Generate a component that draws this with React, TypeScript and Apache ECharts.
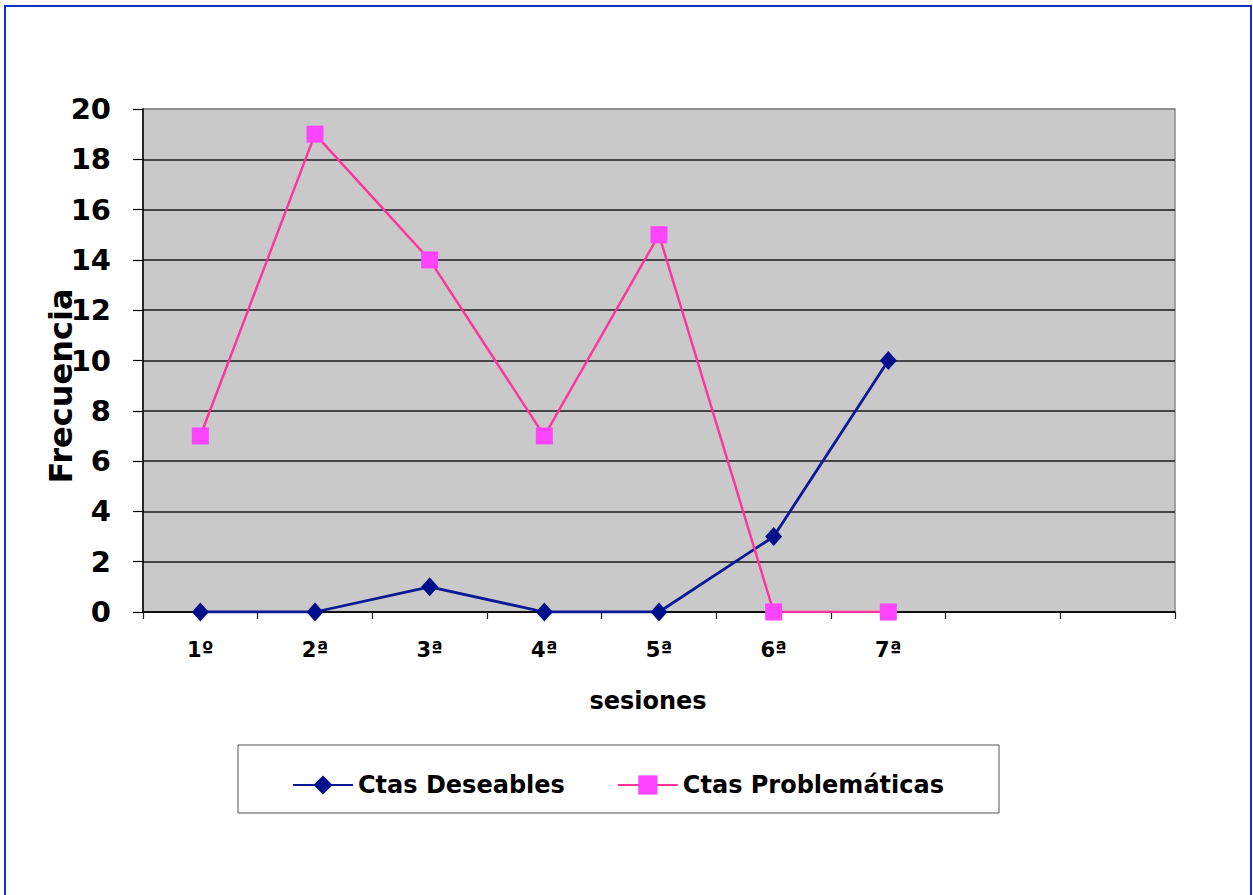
import React, { useEffect, useRef } from "react";
import * as echarts from "echarts";

const categories = ["1º", "2ª", "3ª", "4ª", "5ª", "6ª", "7ª", "", ""];
const deseables = [0, 0, 1, 0, 0, 3, 10];
const problematicas = [7, 19, 14, 7, 15, 0, 0];
const yMin = 0;
const yMax = 20;
const yInterval = 2;

const FONT = "DejaVu Sans";

export default function App() {
  const ref = useRef<HTMLDivElement>(null);
  useEffect(() => {
    if (!ref.current) return;
    const chart = echarts.init(ref.current, undefined, { renderer: "svg" });
    const splitColors: string[] = [];
    for (let v = yMin; v <= yMax; v += yInterval) {
      splitColors.push(v === yMax ? "#8a8a8a" : "#1a1a1a");
    }
    chart.setOption({
      animation: false,
      backgroundColor: "#ffffff",
      textStyle: { fontFamily: FONT },
      grid: {
        left: 143,
        right: 78,
        top: 109,
        bottom: 283,
        show: true,
        backgroundColor: "#c9c9c9",
        borderColor: "#8a8a8a",
        borderWidth: 1.5,
        containLabel: false,
      },
      legend: {
        left: 287,
        top: 766,
        itemWidth: 60,
        itemHeight: 24,
        itemGap: 52,
        textStyle: {
          fontFamily: FONT,
          fontWeight: "bold",
          fontSize: 24,
          color: "#000",
          lineHeight: 28,
        },
        data: ["Ctas Deseables", "Ctas Problemáticas"],
      },
      xAxis: {
        type: "category",
        data: categories,
        boundaryGap: true,
        axisLine: { show: true, lineStyle: { color: "#000", width: 1.5 } },
        axisTick: { show: true, length: 7, interval: 0, lineStyle: { color: "#222", width: 1.2 } },
        axisLabel: {
          interval: 0,
          fontFamily: FONT,
          fontWeight: "bold",
          fontSize: 21,
          color: "#000",
          margin: 27,
        },
        splitLine: { show: false },
      },
      yAxis: {
        type: "value",
        min: yMin,
        max: yMax,
        interval: yInterval,
        axisLine: { show: true, lineStyle: { color: "#000", width: 1.5 } },
        axisTick: { show: true, length: 10, lineStyle: { color: "#000", width: 1.2 } },
        axisLabel: {
          fontFamily: FONT,
          fontWeight: "bold",
          fontSize: 29,
          color: "#000",
          margin: 32,
        },
        splitLine: { show: true, lineStyle: { color: splitColors, width: 1.5 } },
      },
      graphic: [
        {
          type: "rect",
          shape: { x: 5, y: 6, width: 1246, height: 900 },
          style: { fill: "none", stroke: "#1030c8", lineWidth: 2 },
          silent: true,
        },
        {
          type: "rect",
          shape: { x: 238, y: 745, width: 761, height: 68 },
          style: { fill: "#fff", stroke: "#555", lineWidth: 1 },
          z: -1,
          silent: true,
        },
        {
          type: "text",
          x: 61,
          y: 386,
          rotation: Math.PI / 2,
          style: {
            text: "Frecuencia",
            fontFamily: FONT,
            fontWeight: "bold",
            fontSize: 32,
            fill: "#000",
            align: "center",
            verticalAlign: "middle",
          },
          z: 10,
        },
        {
          type: "text",
          x: 648,
          y: 701,
          style: {
            text: "sesiones",
            fontFamily: FONT,
            fontWeight: "bold",
            fontSize: 24,
            fill: "#000",
            align: "center",
            verticalAlign: "middle",
          },
        },
      ],
      series: [
        {
          name: "Ctas Deseables",
          type: "line",
          data: deseables,
          symbol: "diamond",
          symbolSize: [17, 19],
          lineStyle: { color: "#0a1a95", width: 2.8 },
          itemStyle: { color: "#00108a" },
        },
        {
          name: "Ctas Problemáticas",
          type: "line",
          data: problematicas,
          symbol: "rect",
          symbolSize: 17,
          lineStyle: { color: "#ff3399", width: 2.4 },
          itemStyle: { color: "#ff44ff" },
        },
      ],
    });
    return () => chart.dispose();
  }, []);
  return (
    <div
      ref={ref}
      style={{ position: "absolute", left: 0, top: 0, width: 1253, height: 895 }}
    />
  );
}
